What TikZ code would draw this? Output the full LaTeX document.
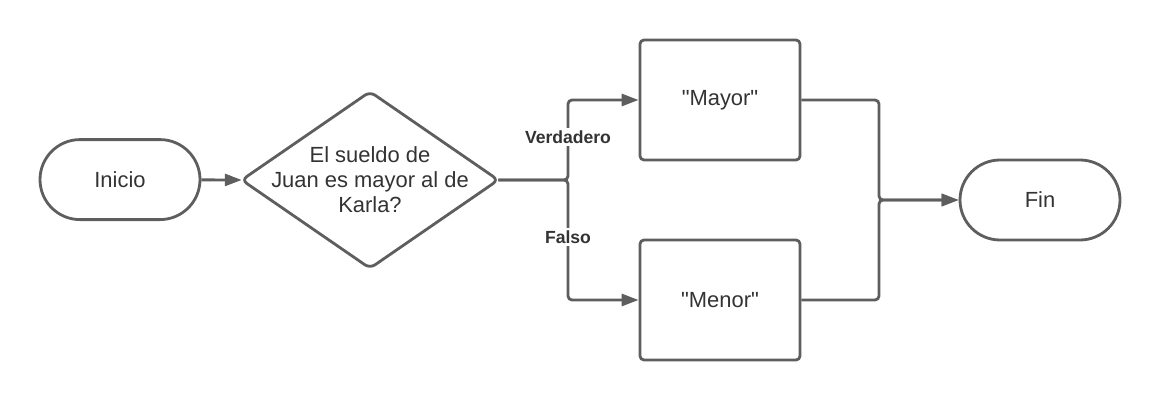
\documentclass[tikz,border=0pt]{standalone}
\usepackage{fontspec}
\setmainfont{Liberation Sans}[Ligatures=TeXOff]
\usepackage{xcolor}
\usepackage{tikz}
\usetikzlibrary{arrows.meta,positioning,calc}
\definecolor{ln}{HTML}{5E5E5E}
\definecolor{tx}{HTML}{333333}
\tikzset{
  term/.style={draw=ln,line width=2pt,rounded corners=1cm,minimum width=4cm,minimum height=2cm,inner sep=0pt,text=tx,font=\fontsize{15.6}{18}\selectfont},
  proc/.style={draw=ln,line width=2pt,rounded corners=0.1cm,minimum width=4cm,minimum height=3cm,inner sep=0pt,text=tx,font=\fontsize{15.6}{18}\selectfont},
  quest/.style={minimum width=6.4cm,minimum height=4.4cm,inner sep=0pt,align=center,text=tx,font=\fontsize{15.6}{17.8}\selectfont},
  lbl/.style={fill=white,inner sep=1.5pt,text=tx,font=\fontsize{12.5}{14}\selectfont\bfseries},
  flow/.style={draw=ln,line width=2pt,rounded corners=0.1cm,-{Triangle[length=12pt,width=8.5pt]}},
}
\begin{document}
\begin{tikzpicture}
  \useasboundingbox (0,0) rectangle (29,-10);
  \node[term] (ini) at (3,-4.49){Inicio};
  \node[quest] (q) at (9.25,-4.5){El sueldo de\\Juan es mayor al de\\Karla?};
  \draw[ln,line width=2pt,rounded corners=0.15cm] (q.west)--(q.north)--(q.east)--(q.south)--cycle;
  \node[proc] (may) at (18,-2.5){"Mayor"};
  \node[proc] (men) at (18,-7.5){"Menor"};
  \node[term] (fin) at (26,-5){Fin};
  \coordinate (split) at (14.2,-4.5);
  \coordinate (merge) at (21.975,-5);
  \draw[flow] (ini)--(q.west);
  \draw[flow] (q.east)--(split)|-(may.west);
  \draw[flow] (q.east)--(split)|-(men.west);
  \draw[flow] (may.east)-|(merge)--(fin.west);
  \draw[flow] (men.east)-|(merge)--(fin.west);
  \node[lbl] (verd) at (14.2,-3.425){Verdadero};
  \node[lbl] (fal) at (14.2,-5.925){Falso};
\end{tikzpicture}
\end{document}
